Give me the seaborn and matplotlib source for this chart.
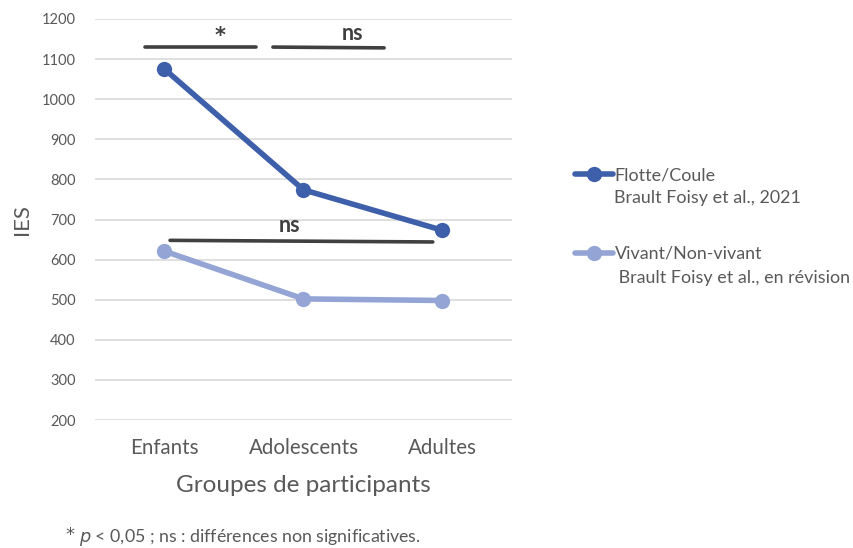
import matplotlib
matplotlib.use("Agg")
import matplotlib.pyplot as plt
import seaborn as sns
import pandas as pd
from matplotlib.lines import Line2D

groups = ["Enfants", "Adolescents", "Adultes"]
flotte = [1075, 774, 673]
vivant = [621, 502, 498]
series_names = ["Flotte/Coule", "Vivant/Non-vivant"]
citations = ["Brault Foisy et al., 2021", " Brault Foisy et al., en révision"]
yticks = [200, 300, 400, 500, 600, 700, 800, 900, 1000, 1100, 1200]

sns.set_theme(style="white")
plt.rcParams["font.family"] = ["Lato", "DejaVu Sans"]

df = pd.DataFrame({
    "groupe": groups * 2,
    "IES": flotte + vivant,
    "serie": [series_names[0]] * 3 + [series_names[1]] * 3,
})

text_col = "#595959"
colors = ["#3E5FAA", "#93A4D5"]

fig = plt.figure(figsize=(8.54, 5.48), dpi=100)
ax = fig.add_axes([95 / 854, 1 - 420 / 548, (512 - 95) / 854, (420 - 19) / 548])

sns.lineplot(data=df, x="groupe", y="IES", hue="serie", palette=colors,
             marker="o", markersize=11, markeredgewidth=0, linewidth=4,
             sort=False, ax=ax, legend=False)

ax.set_xlim(-0.5, 2.5)
ax.set_ylim(200, 1200)
ax.set_yticks(yticks)
ax.set_xticks(range(3))
ax.set_xticklabels(groups, fontsize=14.8, color=text_col)
ax.tick_params(axis="y", labelsize=10.5, colors=text_col, length=0, pad=14)
ax.tick_params(axis="x", length=0, pad=13)
ax.yaxis.grid(True, color="#D9D9D9", linewidth=1.2)
ax.xaxis.grid(False)
for s in ax.spines.values():
    s.set_visible(False)
ax.set_xlabel("Groupes de participants", fontsize=17.5, color=text_col, labelpad=12)
ax.set_ylabel("IES", fontsize=16, color=text_col, labelpad=7)

# significance annotations
sig_col = "#404040"
ax.plot([-0.14, 0.66], [1130, 1130], color=sig_col, lw=2.6, clip_on=False)
ax.plot([0.78, 1.58], [1130, 1128], color=sig_col, lw=2.6, clip_on=False)
ax.plot([0.04, 1.93], [648, 644], color=sig_col, lw=2.6, clip_on=False)
ax.text(0.40, 1158, "*", ha="center", va="center", fontsize=15, fontweight="bold",
        color=sig_col, family="DejaVu Sans")
ax.text(1.35, 1165, "ns", ha="center", va="center", fontsize=15.5, fontweight="bold", color=sig_col)
ax.text(0.90, 686, "ns", ha="center", va="center", fontsize=15.5, fontweight="bold", color=sig_col)

# legend
handles = [Line2D([0], [0], color=c, lw=4, marker="o", markersize=11, markeredgewidth=0) for c in colors]
leg = fig.legend(handles, series_names, loc="upper left", bbox_to_anchor=(568 / 854, 1 - 160 / 548),
                 frameon=False, fontsize=12.9, labelspacing=3.5, handlelength=2.1, handletextpad=0.1,
                 borderaxespad=0)
for t in leg.get_texts():
    t.set_color(text_col)
fig.text(614 / 854, 1 - 198 / 548, citations[0], fontsize=12.9, color=text_col, va="center", ha="left")
fig.text(614 / 854, 1 - 278 / 548, citations[1], fontsize=12.9, color=text_col, va="center", ha="left")

# footnote
fig.text(65 / 854, 1 - 535 / 548, "*", fontsize=13, color=text_col, va="center", ha="left",
         family="DejaVu Sans")
fig.text(79 / 854, 1 - 537 / 548, "$\\it{p}$ < 0,05 ; ns : différences non significatives.",
         fontsize=12.8, color=text_col, va="center", ha="left")

fig.savefig("out.png", dpi=100)
